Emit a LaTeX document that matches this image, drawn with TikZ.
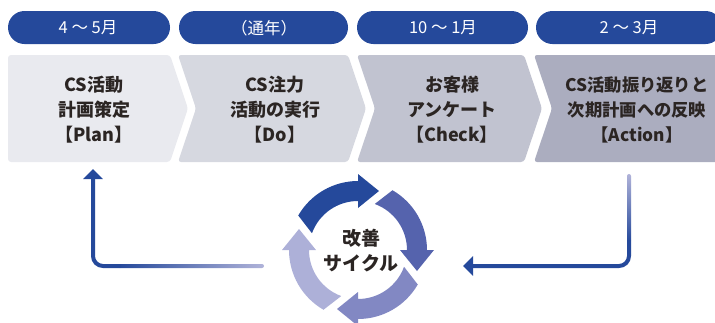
\documentclass[tikz,border=0pt]{standalone}
\usepackage{fontspec}
\setmainfont{Noto Sans CJK JP}
\usetikzlibrary{calc,arrows.meta}
\definecolor{pdblue}{HTML}{25499B}
\definecolor{arrowB}{HTML}{5563AD}
\definecolor{arrowC}{HTML}{8288C3}
\definecolor{arrowD}{HTML}{ADB0D8}
\definecolor{fadeend}{HTML}{B0B3D9}
\definecolor{boxA}{HTML}{E9EAEF}
\definecolor{boxB}{HTML}{D6D8E0}
\definecolor{boxC}{HTML}{C1C3D0}
\definecolor{boxD}{HTML}{ABADBF}
\definecolor{ink}{HTML}{2B2523}
\tikzset{
  pill/.style={fill=pdblue, rounded corners=16.5pt},
  pilltext/.style={text=white, font=\fontsize{16.5}{19}\selectfont, inner sep=0pt},
  chev/.style={rounded corners=3pt},
  boxtext/.style={text=ink, font=\fontsize{18}{25}\selectfont\bfseries, align=center, inner sep=0pt},
  conn/.style={line width=4pt, draw=pdblue, rounded corners=10pt, -{Triangle[width=19pt,length=10pt]}},
}
\newcommand\cyclearrow[2]{%
  \fill[#2] ($(C)+({#1+60}:69)$) arc[start angle=#1+60, end angle=#1, radius=69]
    -- ($(C)+(#1:76)$) -- ($(C)+(#1:59)+({#1-90}:21)$) -- ($(C)+(#1:42)$)
    -- ($(C)+(#1:49)$) arc[start angle=#1, end angle=#1+70, radius=49] -- cycle;}
\begin{document}
\begin{tikzpicture}[x=1pt,y=1pt]
\useasboundingbox (0,0) rectangle (715,-322);
\clip (0,0) rectangle (715,-322);
% pills
\fill[pill] (8,-11) rectangle (170,-44);
\fill[pill] (179,-11) rectangle (348,-44);
\fill[pill] (357,-11) rectangle (528,-44);
\fill[pill] (536,-11) rectangle (722,-44);
\node[pilltext] (p1) at (88,-28) {4 ～ 5月};
\node[pilltext] (p2) at (264,-28) {（通年）};
\node[pilltext] (p3) at (443,-28) {10 ～ 1月};
\node[pilltext] (p4) at (629,-28) {2 ～ 3月};
% chevrons
\fill[boxA, chev] (8,-55) -- (170,-55) -- (188,-108.5) -- (170,-162) -- (8,-162) -- cycle;
\fill[boxB, chev] (178,-55) -- (348,-55) -- (366,-108.5) -- (348,-162) -- (178,-162) -- (196,-108.5) -- cycle;
\fill[boxC, chev] (357,-55) -- (524,-55) -- (542,-108.5) -- (524,-162) -- (357,-162) -- (375,-108.5) -- cycle;
\fill[boxD, chev] (534,-55) -- (740,-55) -- (740,-162) -- (534,-162) -- (552,-108.5) -- cycle;
\node[boxtext] (b1) at (94,-110) {CS活動\\計画策定\\【Plan】};
\node[boxtext] (b2) at (275,-110) {CS注力\\活動の実行\\【Do】};
\node[boxtext] (b3) at (452,-110) {お客様\\アンケート\\【Check】};
\node[boxtext, font=\fontsize{17.3}{25}\selectfont\bfseries] (b4) at (637,-110) {CS活動振り返りと\\次期計画への反映\\【Action】};
% cycle
\coordinate (C) at (358,-250);
\cyclearrow{90}{pdblue}
\cyclearrow{0}{arrowB}
\cyclearrow{-90}{arrowC}
\cyclearrow{180}{arrowD}
\node[boxtext, font=\fontsize{19}{25}\selectfont\bfseries] (kaizen) at (361,-250.5) {改善\\サイクル};
% left connector
\coordinate (lmid) at (120,-266);
\coordinate (planin) at (93,-169);
\shade[left color=pdblue, right color=fadeend, rounded corners=2pt] (118,-264) rectangle (264,-268);
\draw[conn] (lmid) -| (planin);
% right connector
\coordinate (rmid) at (629,-240);
\coordinate (kaizenin) at (463,-266);
\shade[top color=fadeend, bottom color=pdblue, rounded corners=2pt] (627,-174) rectangle (631,-242);
\draw[conn] (rmid) |- (kaizenin);
\end{tikzpicture}
\end{document}
